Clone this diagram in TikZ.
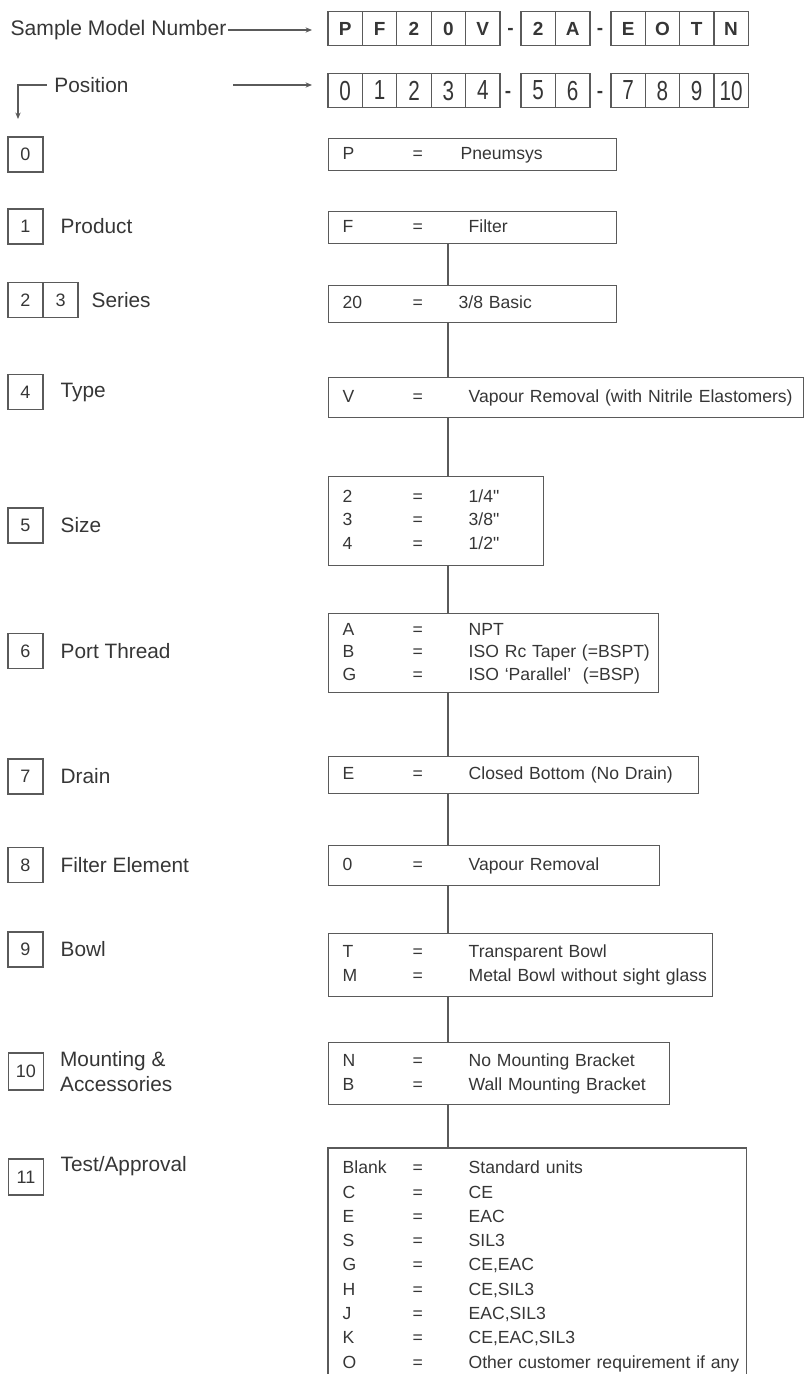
\documentclass[tikz,border=0pt]{standalone}
\usepackage{fontspec}
\usepackage{graphicx}
\setmainfont{Liberation Sans}
\usetikzlibrary{arrows.meta, positioning}
\definecolor{cink}{HTML}{363636}
\definecolor{cline}{HTML}{5A5A5A}
\newcommand{\codes}[1]{\begin{tabular}{@{}p{17.5mm}@{}p{14mm}@{}l@{}}#1\end{tabular}}
\tikzset{
  every picture/.style={line width=0.9pt},
  cell/.style={draw=cline, minimum width=8.6mm, minimum height=8.5mm, inner sep=0pt, outer sep=0pt, text=cink},
  boldcell/.style={cell, font=\fontsize{13.5}{16}\selectfont\bfseries},
  numcell/.style={cell, font=\fontsize{14}{16}\selectfont},
  dashmark/.style={inner sep=0pt, text=cink, font=\fontsize{13.5}{16}\selectfont\bfseries},
  digitbox/.style={draw=cline, minimum size=8.75mm, inner sep=0pt, outer sep=0pt, text=cink, font=\fontsize{12.8}{15}\selectfont},
  fieldname/.style={anchor=west, inner sep=0pt, text=cink, align=left, font=\fontsize{14.8}{17.8}\selectfont},
  codebox/.style={draw=cline, anchor=north west, inner xsep=3.5mm, inner ysep=0pt, text=cink, text width=#1, font=\fontsize{12.5}{17}\selectfont},
  pointer/.style={-{Stealth[length=1.6mm, width=1.3mm]}, draw=cline},
  link/.style={draw=cline},
}

\begin{document}
\begin{tikzpicture}[x=0.025cm, y=-0.025cm]
  \useasboundingbox (0,0) rectangle (804,1374);

  % model number and positions
  \node[fieldname, anchor=center, font=\fontsize{15}{18}\selectfont, inner sep=1pt] (smn) at (118.5,30) {Sample Model Number};
  \node[fieldname, anchor=center] (pos) at (91.5,85) {Position};
  \foreach \t/\x [count=\i from 0] in {P/345.2,F/379.6,2/414,0/448.4,V/482.8,2/538.2,A/572.7,E/628.1,O/662.4,T/696.7,N/731}{
    \node[boldcell] (m\i) at (\x,28.5) {\t};
    \node[numcell, below=7mm of m\i] (p\i) {\scalebox{1.05}[1.4]{\i}};
  }
  \node[dashmark] (d1) at (510.5,31) {-};
  \node[dashmark] (d2) at (600,31) {-};
  \node[dashmark] (d3) at (508,94) {-};
  \node[dashmark] (d4) at (600,94) {-};
  \coordinate (posarr) at (233,85);
  \coordinate (posdown) at (18,119);
  \draw[pointer, shorten >=4mm] (smn.east) -- (smn.east -| m0.west);
  \draw[pointer, shorten >=4mm] (posarr) -- (posarr -| p0.west);
  \draw[pointer] ([xshift=-1.75mm]pos.west) -| (posdown);

  % position numbers and names
  \node[digitbox] (n0) at (25.5,154.5) {0};
  \node[digitbox] (n1) at (25.5,226.5) {1};
  \node[fieldname, right=4.25mm of n1] (l1) {Product};
  \node[digitbox] (n2) at (25.5,300) {2};
  \node[digitbox, right=0pt of n2] (n3) {3};
  \node[fieldname, right=3.25mm of n3] (l2) {Series};
  \node[digitbox] (n4) at (25.5,392) {4};
  \node[fieldname, right=4.25mm of n4] (l4) {Type};
  \node[digitbox] (n5) at (25.5,525.5) {5};
  \node[fieldname, right=4.25mm of n5] (l5) {Size};
  \node[digitbox] (n6) at (25.5,651) {6};
  \node[fieldname, right=4.25mm of n6] (l6) {Port Thread};
  \node[digitbox] (n7) at (25.5,776.5) {7};
  \node[fieldname, right=4.25mm of n7] (l7) {Drain};
  \node[digitbox] (n8) at (25.5,865) {8};
  \node[fieldname, right=4.25mm of n8] (l8) {Filter Element};
  \node[digitbox] (n9) at (25.5,949.5) {9};
  \node[fieldname, right=4.25mm of n9] (l9) {Bowl};
  \node[digitbox, minimum height=9.25mm] (n10) at (26,1071.5) {10};
  \node[fieldname, right=4mm of n10] (l10) {Mounting \&\\Accessories};
  \node[digitbox, minimum height=9mm] (n11) at (26,1177) {11};
  \node[fieldname] (l11) at (60,1166) {Test/Approval};

  % code boxes
  \node[codebox=65mm, minimum height=8mm] (bP) at (328,138) {\codes{P & = & \hspace*{-2mm}Pneumsys}};
  \node[codebox=65mm, minimum height=8mm] (bF) at (328,211) {\codes{F & = & Filter}};
  \node[codebox=65mm, minimum height=9.25mm] (b20) at (328,285) {\codes{20 & = & \hspace*{-2.5mm}3/8 Basic}};
  \node[codebox=111.75mm, minimum height=10mm] (bV) at (328,377) {\codes{V & = & Vapour Removal (with Nitrile Elastomers)}};
  \node[codebox=46.75mm, minimum height=22.25mm] (bS) at (328,476) {\codes{2 & = & 1/4\textquotedbl\\ 3 & = & 3/8\textquotedbl\\ 4 & = & 1/2\textquotedbl}};
  \node[codebox=75.5mm, minimum height=19.75mm, font=\fontsize{12.5}{16}\selectfont] (bT) at (328,613) {\codes{A & = & NPT\\ B & = & ISO Rc Taper (=BSPT)\\ G & = & ISO ‘Parallel’\ \ (=BSP)}};
  \node[codebox=85.5mm, minimum height=9.25mm] (bE) at (328,756) {\codes{E & = & Closed Bottom (No Drain)}};
  \node[codebox=75.75mm, minimum height=10mm] (bO) at (328,845) {\codes{0 & = & Vapour Removal}};
  \node[codebox=89mm, minimum height=15.75mm] (bB) at (328,933) {\codes{T & = & Transparent Bowl\\ M & = & Metal Bowl without sight glass}};
  \node[codebox=78.25mm, minimum height=15.5mm] (bM) at (328,1042) {\codes{N & = & No Mounting Bracket\\ B & = & Wall Mounting Bracket}};
  \node[codebox=97.25mm, draw=none, inner ysep=2mm, font=\fontsize{12.5}{17.3}\selectfont] (bA) at (328,1148) {\codes{Blank & = & Standard units\\ C & = & CE\\ E & = & EAC\\ S & = & SIL3\\ G & = & CE,EAC\\ H & = & CE,SIL3\\ J & = & EAC,SIL3\\ K & = & CE,EAC,SIL3\\ O & = & Other customer requirement if any}};
  \coordinate (pagebot) at (0,1374);
  \draw[link] (bA.west |- pagebot) |- (bA.north east) -- (bA.east |- pagebot);

  % spine
  \coordinate (spine) at (448,0);
  \foreach \a/\b in {bF/b20, b20/bV, bV/bS, bS/bT, bT/bE, bE/bO, bO/bB, bB/bM, bM/bA}
    \draw[link] (\a.south -| spine) -- (\b.north -| spine);
\end{tikzpicture}
\end{document}
